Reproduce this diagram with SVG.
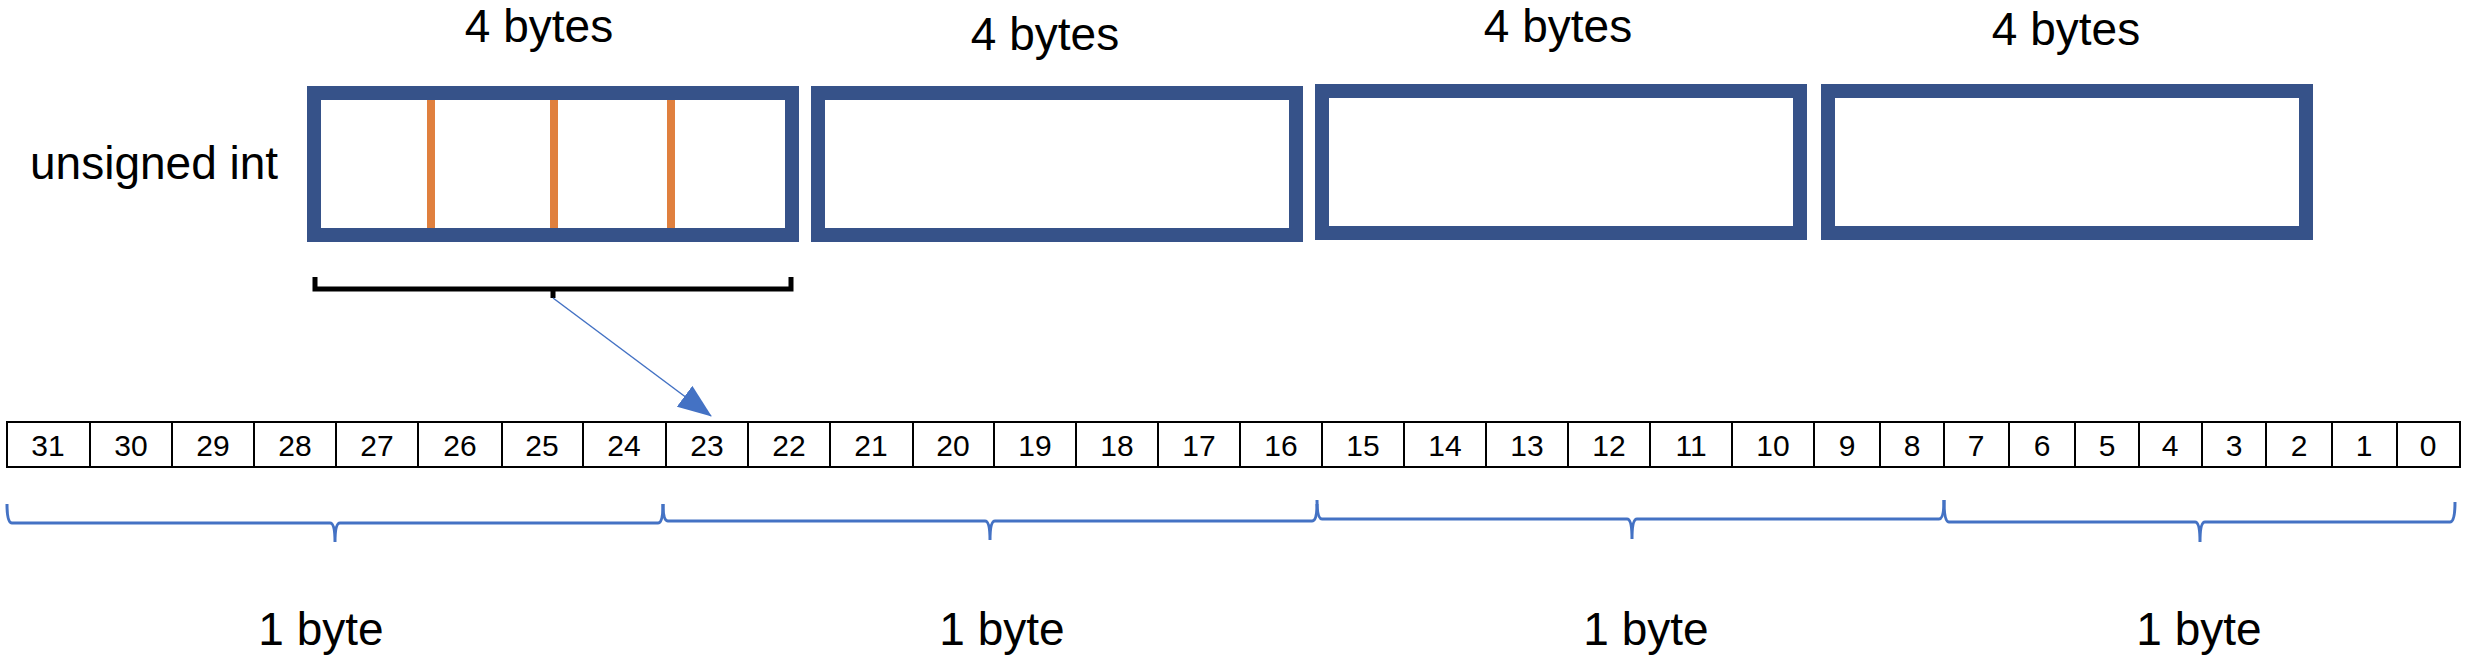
<svg xmlns="http://www.w3.org/2000/svg" width="2468" height="661" viewBox="0 0 2468 661">
<style>
text{font-family:"Liberation Sans",Arial,sans-serif;fill:#000}
.big{font-size:46px}
.num{font-size:30px;text-anchor:middle}
.box{fill:none;stroke:#365289;stroke-width:14}
.ol{stroke:#E0803E;stroke-width:8}
.cell{fill:none;stroke:#000;stroke-width:2}
.br{fill:none;stroke:#4472C4;stroke-width:3}
</style>
<defs><marker id="ah" markerWidth="10" markerHeight="10" refX="9" refY="5" orient="auto" markerUnits="userSpaceOnUse"><path d="M0,0 L10,5 L0,10Z" fill="#4472C4" transform="scale(1)"/></marker>
<marker id="ah2" markerWidth="34" markerHeight="26" refX="33" refY="13" orient="auto" markerUnits="userSpaceOnUse"><path d="M0,0 L34,13 L0,26Z" fill="#4472C4"/></marker></defs>
<rect width="2468" height="661" fill="#fff"/>
<g id="labels" class="big" text-anchor="middle">
<text x="539" y="42">4 bytes</text><text x="1045" y="50">4 bytes</text><text x="1558" y="42">4 bytes</text><text x="2066" y="45">4 bytes</text>
<text x="30" y="179" text-anchor="start">unsigned int</text>
<text x="321" y="645">1 byte</text><text x="1002" y="645">1 byte</text><text x="1646" y="645">1 byte</text><text x="2199" y="645">1 byte</text>
</g>
<g id="int1"><rect class="box" x="314" y="93" width="478" height="142"/><line class="ol" x1="431" y1="100" x2="431" y2="228"/><line class="ol" x1="554" y1="100" x2="554" y2="228"/><line class="ol" x1="671" y1="100" x2="671" y2="228"/></g>
<g id="int2"><rect class="box" x="818" y="93" width="478" height="142"/></g>
<g id="int3"><rect class="box" x="1322" y="91" width="478" height="142"/></g>
<g id="int4"><rect class="box" x="1828" y="91" width="478" height="142"/></g>
<g id="bits">
<rect class="cell" x="7" y="422" width="2453" height="45" stroke-width="3"/>
<path class="cell" d="M90,422V467M172,422V467M254,422V467M336,422V467M418,422V467M502,422V467M583,422V467M666,422V467M748,422V467M830,422V467M913,422V467M994,422V467M1076,422V467M1158,422V467M1240,422V467M1322,422V467M1404,422V467M1486,422V467M1568,422V467M1650,422V467M1732,422V467M1814,422V467M1880,422V467M1944,422V467M2009,422V467M2075,422V467M2139,422V467M2202,422V467M2266,422V467M2332,422V467M2397,422V467"/>
<g class="num">
<text x="48" y="456">31</text><text x="131" y="456">30</text><text x="213" y="456">29</text><text x="295" y="456">28</text><text x="377" y="456">27</text><text x="460" y="456">26</text><text x="542" y="456">25</text><text x="624" y="456">24</text><text x="707" y="456">23</text><text x="789" y="456">22</text><text x="871" y="456">21</text><text x="953" y="456">20</text><text x="1035" y="456">19</text><text x="1117" y="456">18</text><text x="1199" y="456">17</text><text x="1281" y="456">16</text><text x="1363" y="456">15</text><text x="1445" y="456">14</text><text x="1527" y="456">13</text><text x="1609" y="456">12</text><text x="1691" y="456">11</text><text x="1773" y="456">10</text><text x="1847" y="456">9</text><text x="1912" y="456">8</text><text x="1976" y="456">7</text><text x="2042" y="456">6</text><text x="2107" y="456">5</text><text x="2170" y="456">4</text><text x="2234" y="456">3</text><text x="2299" y="456">2</text><text x="2364" y="456">1</text><text x="2428" y="456">0</text>
</g></g>
<g id="connectors">
<path d="M315,277V289H791V277M553,289V298" fill="none" stroke="#000" stroke-width="5"/>
<line x1="553" y1="298" x2="711" y2="416" stroke="#4472C4" stroke-width="1.5" marker-end="url(#ah2)"/>
<path class="br" d="M7,504Q7,523 12,523H330Q335,523 335,542Q335,523 340,523H658Q663,523 663,504"/>
<path class="br" d="M663,504Q663,521 668,521H985Q990,521 990,540Q990,521 995,521H1312Q1317,521 1317,504"/>
<path class="br" d="M1317,500Q1317,519 1322,519H1627Q1632,519 1632,539Q1632,519 1637,519H1939Q1944,519 1944,500"/>
<path class="br" d="M1944,500Q1944,522 1949,522H2195Q2200,522 2200,542Q2200,522 2205,522H2450Q2455,522 2455,502"/>
</g>
</svg>
